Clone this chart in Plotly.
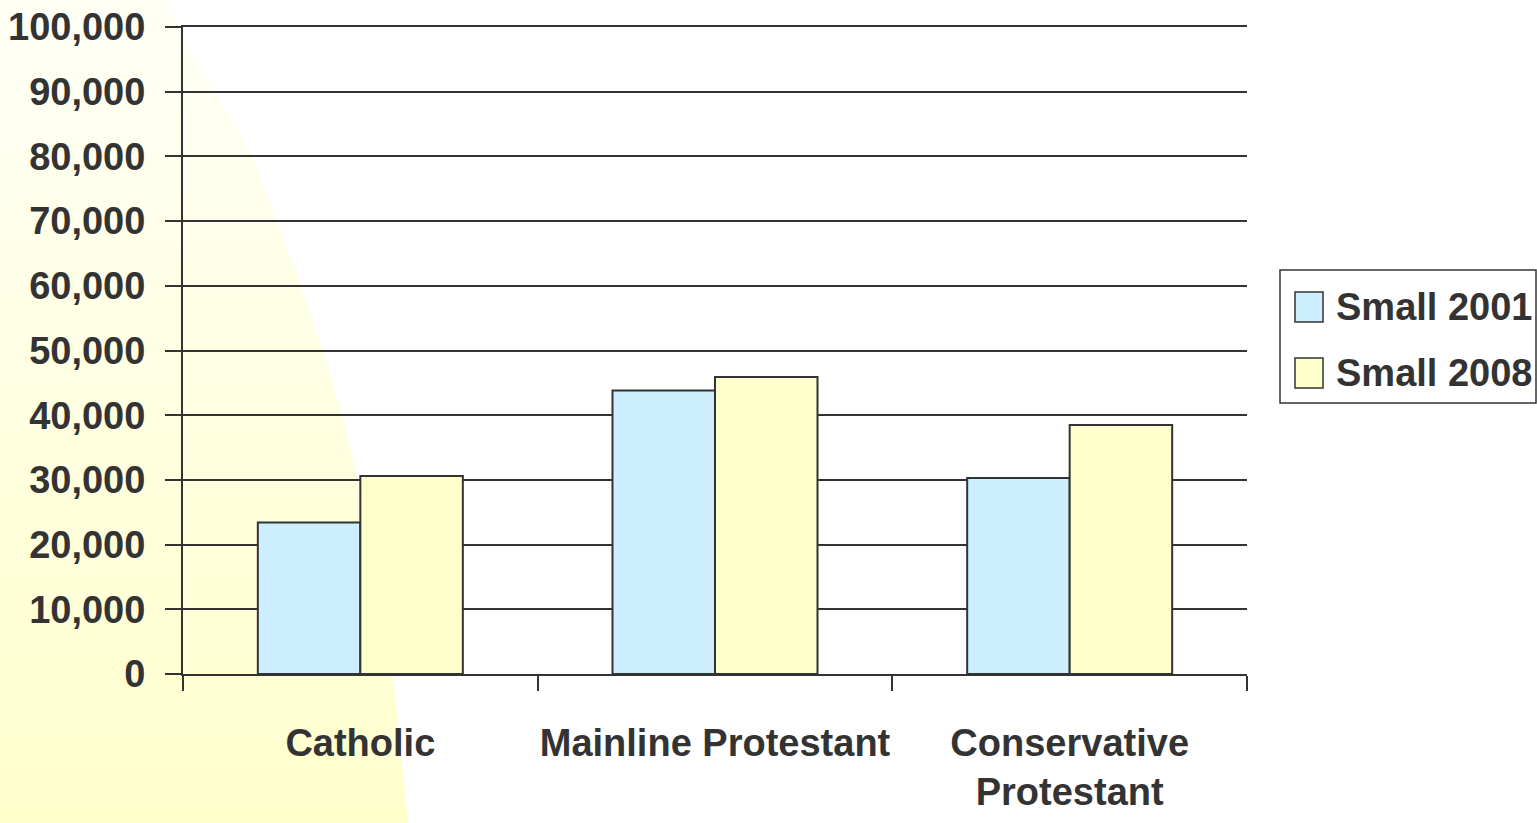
import plotly.graph_objects as go

categories = ["Catholic", "Mainline Protestant", "Conservative<br>Protestant"]
series_names = ["Small 2001", "Small 2008"]
small_2001 = [23400, 43800, 30300]
small_2008 = [30600, 45900, 38500]
series_colors = ["#cceeff", "#ffffcc"]

W, H = 1537, 823
L, R, T, B = 183, 1247, 27, 674
FONT = "Liberation Sans, Arial, sans-serif"
TXT = "#333333"
FS = 38

def tfont(size=FS):
    return dict(family=FONT, size=size, color=TXT, weight=700)

fig = go.Figure()
for name, vals, col in zip(series_names, [small_2001, small_2008], series_colors):
    fig.add_trace(go.Bar(
        x=categories, y=vals, name=name, marker=dict(color=col, line=dict(color="#333333", width=2)),
        showlegend=False,
    ))

def px2paper(px, py):
    return (px - L) / (R - L), (B - py) / (B - T)

edge = [(167, 0), (183, 40), (250, 150), (295, 270), (323, 352), (342, 415), (357, 477), (393, 675), (408, 823)]

def edge_x(y):
    for (x0, y0), (x1, y1) in zip(edge[:-1], edge[1:]):
        if y0 <= y <= y1:
            return x0 + (x1 - x0) * (y - y0) / (y1 - y0)
    return edge[-1][0]

shapes = []
N = 60
for i in range(N):
    ya, yb = H * i / N, H * (i + 1) / N
    t = (i + 0.5) / N
    b = int(round(246 - (246 - 204) * t))
    col = f"rgb(255,255,{b})"
    pts = [(0, ya), (edge_x(ya), ya), (edge_x(yb), yb + 0.6), (0, yb + 0.6)]
    pp = [px2paper(x, y) for x, y in pts]
    path = "M " + " L ".join(f"{x:.5f},{y:.5f}" for x, y in pp) + " Z"
    shapes.append(dict(type="path", path=path, xref="paper", yref="paper",
                       fillcolor=col, line=dict(width=0), layer="below"))

# legend box
lx0, ly0, lx1, ly1 = 1280, 270, 1537, 403
x0p, y0p = px2paper(lx0, ly0)
x1p, y1p = px2paper(lx1 - 1, ly1)
shapes.append(dict(type="rect", xref="paper", yref="paper", x0=x0p, y0=y0p, x1=x1p, y1=y1p,
                   line=dict(color="#333333", width=1.5), fillcolor="white", layer="above"))
annotations = []
row_y = [307, 373]
for name, col, ry in zip(series_names, series_colors, row_y):
    sx0, sy0 = px2paper(1295, ry - 15)
    sx1, sy1 = px2paper(1323, ry + 15)
    shapes.append(dict(type="rect", xref="paper", yref="paper", x0=sx0, y0=sy0, x1=sx1, y1=sy1,
                       line=dict(color="#333333", width=1.5), fillcolor=col, layer="above"))
    tx, ty = px2paper(1334, ry)
    annotations.append(dict(text=name, xref="paper", yref="paper", x=tx, y=ty, xanchor="left",
                            yanchor="middle", showarrow=False, font=tfont()))

fig.update_layout(
    width=W, height=H,
    margin=dict(l=L, r=W - R, t=T, b=H - B, pad=0, autoexpand=False),
    paper_bgcolor="white", plot_bgcolor="rgba(0,0,0,0)",
    barmode="group", bargap=0.422, bargroupgap=0,
    font=tfont(),
    shapes=shapes, annotations=annotations,
    showlegend=False,
)
fig.update_yaxes(
    range=[0, 100000], dtick=10000, tickformat=",d",
    showgrid=True, gridcolor="#333333", gridwidth=2,
    showline=True, linecolor="#333333", linewidth=2,
    ticks="outside", ticklen=16, tickwidth=2, tickcolor="#333333",
    ticklabelstandoff=12, automargin=False,
    tickfont=tfont(),
    zeroline=False, fixedrange=True,
)
fig.update_xaxes(
    showline=True, mirror=True, linecolor="#333333", linewidth=2,
    ticks="outside", ticklen=15, tickwidth=1.5, tickcolor="#333333", tickson="boundaries",
    ticklabelstandoff=34, tickangle=0, automargin=False,
    tickfont=tfont(),
    showgrid=False, fixedrange=True,
)

fig.write_html(
    "out.html",
    config={"displayModeBar": False},
    post_script="document.body.style.margin='0';document.body.style.overflow='hidden';",
)
